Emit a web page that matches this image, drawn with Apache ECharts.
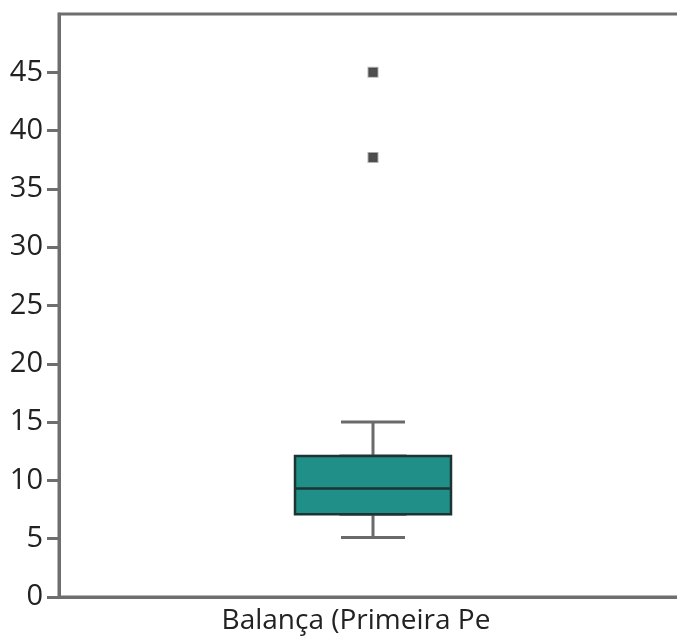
<!DOCTYPE html>
<html>
<head>
<meta charset="utf-8">
<script src="https://cdn.jsdelivr.net/npm/echarts@6/dist/echarts.min.js"></script>
<style>html,body{margin:0;padding:0;background:#fff;}#c{width:677px;height:641px;}</style>
</head>
<body>
<div id="c"></div>
<script>
const categories = ['Balança (Primeira Pe'];
// [min, Q1, median, Q3, max]
const boxValues = [[5.1, 7.1, 9.3, 12.1, 15.0]];
const outliers = [45.0, 37.7];
const yTicks = [0, 5, 10, 15, 20, 25, 30, 35, 40, 45];
const yMin = 0, yMax = 50;

const chart = echarts.init(document.getElementById('c'));
const font = '"Open Sans", "Noto Sans", sans-serif';
chart.setOption({
  animation: false,
  grid: { left: 59, top: 14, width: 628, bottom: 44, outerBoundsMode: 'none', containLabel: false, show: true, borderColor: '#6e6e6e', borderWidth: 3, backgroundColor: 'transparent' },
  xAxis: [{
    type: 'category', data: categories,
    axisLine: { show: true, lineStyle: { color: '#6e6e6e', width: 3 } },
    axisTick: { show: false },
    axisLabel: { color: '#222', fontFamily: font, fontSize: 28, margin: 10, padding: [0, 34, 0, 0] },
    splitLine: { show: false }
  }, {
    type: 'category', data: categories, position: 'bottom', show: false
  }],
  yAxis: {
    type: 'value', min: yMin, max: yMax, interval: 5,
    axisLine: { show: true, lineStyle: { color: '#6e6e6e', width: 3 } },
    axisTick: { show: true, length: 12, customValues: yTicks, lineStyle: { color: '#6e6e6e', width: 3 } },
    axisLabel: { customValues: yTicks, color: '#222', fontFamily: font, fontSize: 29, margin: 16 },
    splitLine: { show: false }
  },
  series: [
    {
      type: 'boxplot', data: boxValues, boxWidth: [64, 64], xAxisIndex: 0,
      itemStyle: { color: '#1f8f87', borderColor: '#6a6a6a', borderWidth: 3 }
    },
    {
      type: 'boxplot', xAxisIndex: 1,
      data: boxValues.map(b => [b[1], b[1], b[2], b[3], b[3]]),
      boxWidth: [156, 156],
      itemStyle: { color: '#1f8f87', borderColor: '#1d3434', borderWidth: 2.5 }
    },
    {
      type: 'scatter', symbol: 'rect', symbolSize: 9,
      data: outliers.map(v => [categories[0], v]),
      itemStyle: { color: '#222', borderColor: 'rgba(60,60,60,0.5)', borderWidth: 2 }
    }
  ]
});
</script>
</body>
</html>
